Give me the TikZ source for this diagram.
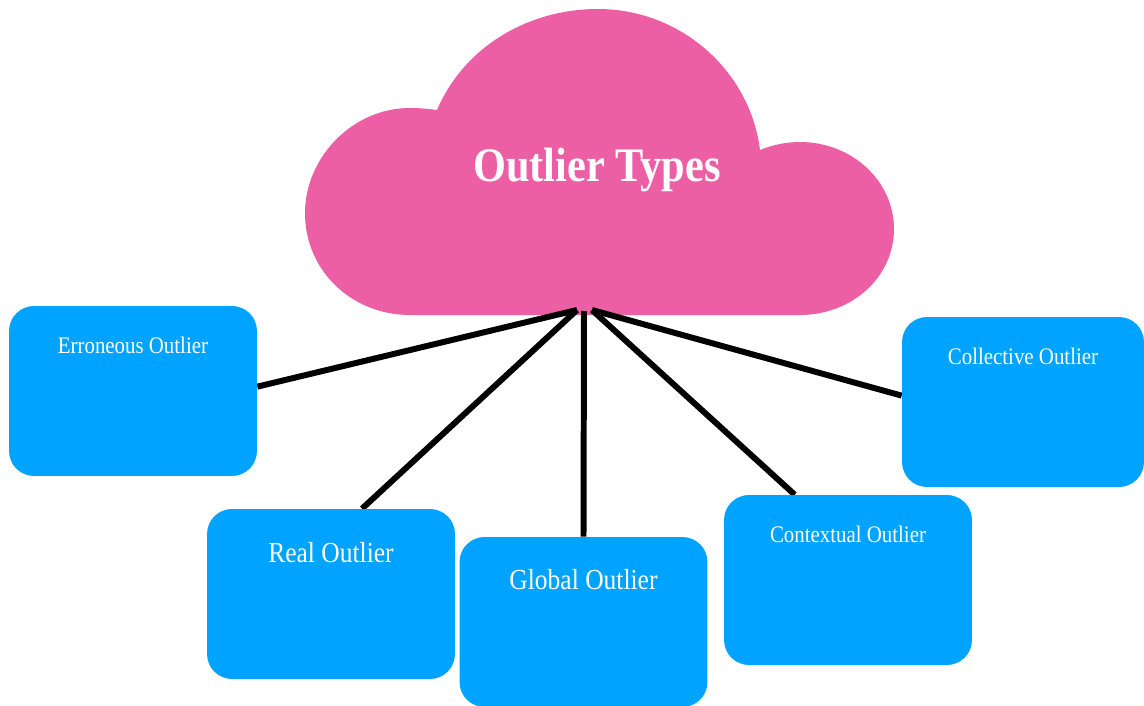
\documentclass[tikz,border=0pt]{standalone}
\usepackage{fontspec}
\usepackage{tikz}
\usetikzlibrary{positioning,backgrounds}
\newfontfamily\typesfont[FakeStretch=0.88]{Liberation Serif}
\definecolor{olPink}{RGB}{237,95,165}
\definecolor{olBlue}{RGB}{0,163,255}

\begin{document}
\begin{tikzpicture}[
    x=0.02cm, y=-0.02cm,
    type node/.style={rectangle, rounded corners=0.5cm, fill=olBlue, minimum width=4.96cm, minimum height=3.4cm, inner sep=0pt},
    small label/.style={font=\typesfont\fontsize{13.5}{14}\selectfont, text=white, inner sep=0pt},
    big label/.style={font=\typesfont\fontsize{16.5}{17}\selectfont, text=white, inner sep=0pt},
    title note/.style={font=\typesfont\bfseries\fontsize{27.4}{28}\selectfont, text=white, inner sep=0pt},
    link/.style={line width=3.4pt, black}
]
  \useasboundingbox (0,0) rectangle (1144,706);

  \node[title note] (title) at (597,170) {Outlier Types};

  \node[type node] (err) at (133,391) {};
  \node[type node] (real) at (331,594) {};
  \node[type node] (glob) at (583.5,622) {};
  \node[type node] (ctx) at (848,580) {};
  \node[type node, minimum width=4.84cm] (coll) at (1023,402) {};

  \node[small label, below=0.62cm of err.north] (errtext) {Erroneous Outlier};
  \node[big label, below=0.66cm of real.north] (realtext) {Real Outlier};
  \node[big label, below=0.64cm of glob.north] (globtext) {Global Outlier};
  \node[small label, below=0.62cm of ctx.north] (ctxtext) {Contextual Outlier};
  \node[small label, below=0.62cm of coll.north] (colltext) {Collective Outlier};

  \coordinate (hubl) at (577,310);
  \coordinate (hub) at (584,311);
  \coordinate (hubr) at (592,310);

  \begin{scope}[on background layer]
    % cloud
    \fill[olPink] (437,110) .. controls (465,45) and (530,9) .. (598,9)
      .. controls (680,9) and (750,70) .. (760,150)
      .. controls (772,145) and (786,142) .. (800,142)
      .. controls (852,142) and (894,181) .. (894,229)
      .. controls (894,277) and (852,315) .. (800,315)
      -- (410,315)
      .. controls (352,315) and (305,271) .. (305,213)
      .. controls (305,158) and (352,108) .. (410,108)
      .. controls (420,108) and (430,109) .. (437,110) -- cycle;

    \draw[link] (hubl) -- (err.2);
    \draw[link] (hubl) -- (real.70);
    \draw[link] (hub) -- (glob.north);
    \draw[link] (hubr) -- (ctx.122);
    \draw[link] (hubr) -- (coll.177);
  \end{scope}
\end{tikzpicture}
\end{document}
